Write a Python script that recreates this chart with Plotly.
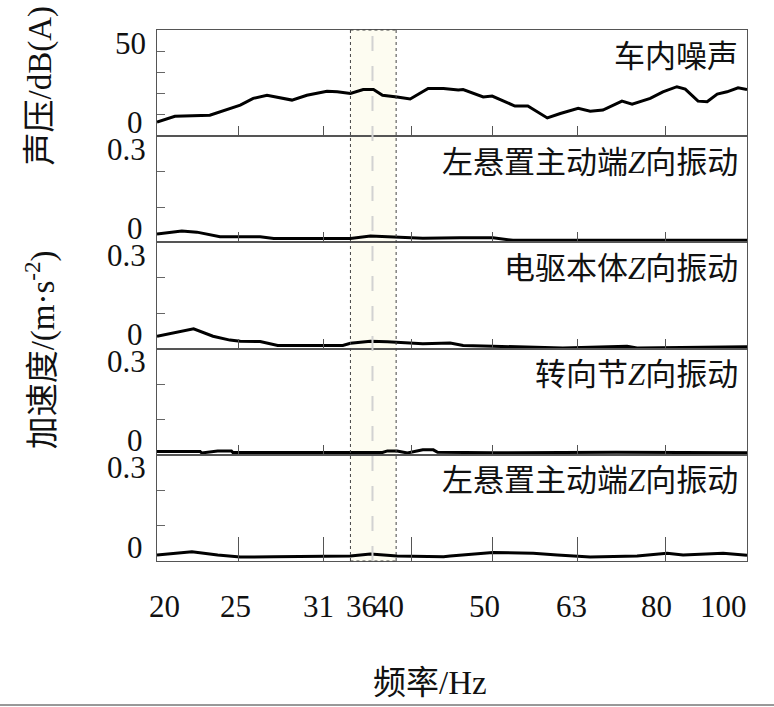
import math
import plotly.graph_objects as go
from plotly.subplots import make_subplots

# ---------------- data ----------------
freq_noise = [20.0, 21.0, 23.1, 25.1, 26.0, 27.0, 28.9, 30.1, 31.8, 32.7, 33.9, 35.1, 36.1, 37.0,
              38.5, 39.9, 41.9, 43.7, 45.5, 46.1, 48.7, 49.9, 53.1, 55.0, 58.0, 60.1, 63.1, 65.2,
              67.5, 71.1, 73.1, 76.8, 79.5, 82.6, 84.5, 87.5, 89.7, 92.2, 94.7, 97.6, 100.0]
noise_db = [6.7, 9.4, 9.9, 14.6, 17.8, 19.3, 17.0, 19.3, 21.2, 20.9, 20.1, 22.0, 22.0, 19.3,
            18.5, 17.5, 22.5, 22.5, 21.7, 22.0, 18.5, 18.9, 14.2, 14.2, 8.6, 10.7, 13.1, 11.8,
            12.3, 16.5, 15.1, 17.8, 20.9, 23.3, 22.2, 16.5, 16.2, 19.8, 20.9, 22.8, 22.0]

freq_mount_a = [20.0, 21.4, 22.3, 23.75, 25.1, 26.5, 27.5, 33.9, 35.8, 37.5, 39.9, 41.3, 45.7,
                50.0, 52.8, 66.4, 80.4, 87.3, 100.0]
mount_a = [0.024, 0.032, 0.029, 0.016, 0.016, 0.016, 0.011, 0.011, 0.018, 0.016, 0.014, 0.012,
           0.013, 0.013, 0.006, 0.006, 0.008, 0.006, 0.006]

freq_motor = [20.0, 22.1, 23.3, 24.4, 25.1, 26.5, 27.8, 33.2, 33.9, 35.8, 37.5, 39.9, 41.3, 44.5,
              45.7, 46.1, 50.0, 60.5, 72.1, 74.1, 100.0]
motor = [0.035, 0.056, 0.035, 0.024, 0.021, 0.020, 0.009, 0.009, 0.015, 0.021, 0.019, 0.017,
         0.014, 0.016, 0.011, 0.0085, 0.0066, 0.002, 0.0066, 0.002, 0.005]

freq_knuckle = [20.0, 22.5, 22.6, 23.6, 24.5, 24.6, 37.0, 37.5, 38.5, 39.6, 41.3, 42.5, 43.0,
                50.0, 70.0, 100.0]
knuckle = [0.009, 0.009, 0.005, 0.011, 0.011, 0.0065, 0.0065, 0.011, 0.011, 0.005, 0.014,
           0.014, 0.007, 0.006, 0.007, 0.006]

freq_mount_b = [20.0, 22.0, 23.6, 25.1, 27.5, 31.5, 33.9, 35.8, 38.5, 43.7, 44.5, 50.0, 55.8,
                59.6, 65.2, 74.1, 80.4, 84.0, 93.7, 100.0]
mount_b = [0.017, 0.026, 0.017, 0.011, 0.012, 0.014, 0.014, 0.020, 0.014, 0.012, 0.014, 0.024,
           0.022, 0.017, 0.011, 0.014, 0.022, 0.017, 0.022, 0.016]

panel_titles = ["车内噪声", "左悬置主动端<i>Z</i>向振动", "电驱本体<i>Z</i>向振动",
                "转向节<i>Z</i>向振动", "左悬置主动端<i>Z</i>向振动"]
y_top_labels = ["50", "0.3", "0.3", "0.3", "0.3"]
y_bottom_labels = ["0", "0", "0", "0", "0"]
y_tops = [50, 0.3, 0.3, 0.3, 0.3]
y_minor_ticks = [[10, 20, 30, 40], [0.1, 0.2], [0.1, 0.2], [0.1, 0.2], [0.1, 0.2]]

x_tick_marks = [25, 31.5, 40, 50, 63, 80]
x_tick_labels = ["20", "25", "31", "36", "40", "50", "63", "80", "100"]
x_label_freqs = [20.4, 24.8, 31.1, 34.9, 37.6, 48.8, 62.0, 78.2, 93.9]

band_lo, band_hi, band_center = 33.9, 38.4, 36.0
marker_level = 52.4

# ---------------- figure ----------------
FONT = "Liberation Serif, 'Noto Sans CJK SC', serif"
series = [(freq_noise, noise_db), (freq_mount_a, mount_a), (freq_motor, motor),
          (freq_knuckle, knuckle), (freq_mount_b, mount_b)]

fig = make_subplots(rows=5, cols=1, shared_xaxes=True, vertical_spacing=0)

for i, (fx, fy) in enumerate(series):
    fig.add_trace(go.Scatter(x=fx, y=fy, mode="lines",
                             line=dict(color="black", width=3),
                             showlegend=False, hoverinfo="skip"), row=i + 1, col=1)

# small marker triangle above the band
fig.add_trace(go.Scatter(x=[band_center], y=[marker_level], mode="markers",
                         marker=dict(symbol="triangle-down", size=8, color="#9a9a9a"),
                         cliponaxis=False, showlegend=False, hoverinfo="skip"), row=1, col=1)

for i in range(5):
    fig.update_xaxes(type="log", range=[math.log10(20), math.log10(100)],
                     tickvals=x_tick_marks, ticks="inside",
                     ticklen=24 if i == 4 else 10, tickcolor="#555", tickwidth=1,
                     showticklabels=False, showline=True, mirror=True,
                     linecolor="#555", linewidth=1, showgrid=False, zeroline=False,
                     row=i + 1, col=1)
    fig.update_yaxes(range=[0, y_tops[i]], tickvals=y_minor_ticks[i], ticks="inside",
                     ticklen=8, tickcolor="#666", tickwidth=1, showticklabels=False,
                     showline=True, mirror=True, linecolor="#555", linewidth=1,
                     showgrid=False, zeroline=False, row=i + 1, col=1)

shapes = [
    dict(type="rect", xref="x5", yref="paper", x0=band_lo, x1=band_hi, y0=0, y1=1,
         fillcolor="#fdfcf1", line=dict(width=0), layer="below"),
    dict(type="line", xref="x5", yref="paper", x0=band_center, x1=band_center, y0=0, y1=1,
         line=dict(color="#d2d2d2", width=2, dash="longdash")),
]
for xv in (band_lo, band_hi):
    shapes.append(dict(type="line", xref="x5", yref="paper", x0=xv, x1=xv, y0=0, y1=1,
                       line=dict(color="#444", width=1, dash="dot")))
for yv in (0, 1):
    shapes.append(dict(type="line", xref="x5", yref="paper", x0=band_lo, x1=band_hi,
                       y0=yv, y1=yv, line=dict(color="#444", width=1, dash="dot")))
# page bottom rule
shapes.append(dict(type="line", xref="paper", yref="paper", x0=-0.27, x1=1.05,
                   y0=-0.2712, y1=-0.2712, line=dict(color="#333", width=1)))

annotations = []
for i in range(5):
    yr = "y" if i == 0 else f"y{i + 1}"
    annotations.append(dict(text=panel_titles[i], xref="paper", x=1, xshift=-7,
                            xanchor="right", yref=f"{yr} domain", y=1, yshift=-26,
                            yanchor="middle", showarrow=False,
                            font=dict(family=FONT, size=31, color="#111")))
    annotations.append(dict(text=y_top_labels[i], xref="paper", x=0, xshift=-9,
                            xanchor="right", yref=f"{yr} domain", y=1, yshift=-13,
                            yanchor="middle", showarrow=False,
                            font=dict(family=FONT, size=31, color="#111")))
    annotations.append(dict(text=y_bottom_labels[i], xref="paper", x=0, xshift=-12,
                            xanchor="right", yref=f"{yr} domain", y=0, yshift=14,
                            yanchor="middle", showarrow=False,
                            font=dict(family=FONT, size=31, color="#111")))

for lab, fq in zip(x_tick_labels, x_label_freqs):
    annotations.append(dict(text=lab, xref="x5", x=math.log10(fq), xanchor="center",
                            yref="paper", y=0, yshift=-45, yanchor="middle",
                            showarrow=False, font=dict(family=FONT, size=31, color="#111")))

annotations.append(dict(text="声压/dB(A)", xref="paper", x=-0.198, yref="paper", y=0.896,
                        textangle=-90, xanchor="center", yanchor="middle", showarrow=False,
                        font=dict(family=FONT, size=33, color="#111")))
annotations.append(dict(text="加速度/(m·s<sup>-2</sup>)", xref="paper", x=-0.198,
                        yref="paper", y=0.397, textangle=-90, xanchor="center",
                        yanchor="middle", showarrow=False,
                        font=dict(family=FONT, size=33, color="#111")))
annotations.append(dict(text="频率/Hz", xref="paper", x=0.4627, yref="paper", y=-0.2298,
                        xanchor="center", yanchor="middle", showarrow=False,
                        font=dict(family=FONT, size=33, color="#111")))

fig.update_layout(width=774, height=707, margin=dict(l=157, r=27, t=30, b=146),
                  paper_bgcolor="white", plot_bgcolor="white",
                  shapes=shapes, annotations=annotations, showlegend=False)

fig.write_html("out.html")
